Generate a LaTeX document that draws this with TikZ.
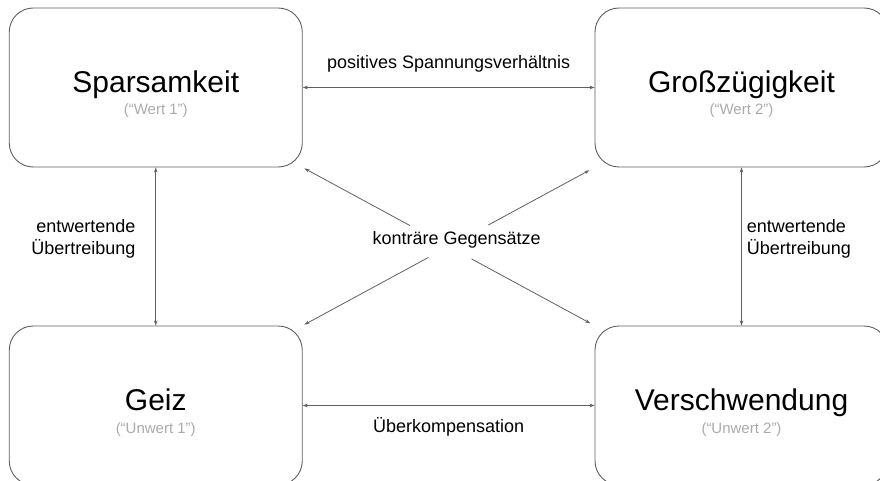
\documentclass[tikz,border=0pt]{standalone}
\usepackage{fontspec}
\setmainfont{Liberation Sans}
\usepackage{tikz}
\usetikzlibrary{positioning,arrows.meta,calc}
\tikzstyle{pixels} = [x = 1pt, y = -1pt]
\definecolor{lineColor}{RGB}{95,95,95}
\definecolor{subColor}{RGB}{170,170,170}
\tikzstyle{valueBoxStyle} = [draw=lineColor, line width=0.9pt, rounded corners = 24pt, minimum width=293pt, minimum height=159pt, inner sep=0pt]
\tikzstyle{titleText} = [font=\fontsize{30}{36}\selectfont, anchor=base, inner sep=0pt]
\tikzstyle{subText} = [font=\fontsize{15}{18}\selectfont, text=subColor, anchor=base, inner sep=0pt]
\tikzstyle{arrowLine} = [draw=lineColor, line width=0.8pt, >={Stealth[length=5pt, width=3.5pt]}]
\tikzstyle{labelText} = [font=\fontsize{18}{21.6}\selectfont, inner sep=0pt]
\newcommand{\valueBox}[4]{
  \node [valueBoxStyle] (#1) at (#2) {};
  \node [titleText] (#1Title) at ([yshift=-5pt]#1.center) {#3};
  \node [subText] (#1Sub) at ([yshift=-27.5pt]#1.center) {#4};
}

\begin{document}
\begin{tikzpicture}[pixels]
  \useasboundingbox (0,0) rectangle (880,481);
  \clip (0,0) rectangle (880,481);
  \valueBox{spar}{155.75,87.5}{Sparsamkeit}{(“Wert 1”)}
  \valueBox{gross}{741.5,87.5}{Großzügigkeit}{(“Wert 2”)}
  \valueBox{geiz}{155.75,405.5}{Geiz}{(“Unwert 1”)}
  \valueBox{versch}{741.5,405.5}{Verschwendung}{(“Unwert 2”)}
  % Spannung und Ueberkompensation
  \draw [arrowLine, <->] (spar) -- node [labelText, above=14.5pt] (spannung) {positives Spannungsverhältnis} (gross);
  \draw [arrowLine, <->] (geiz) -- node [labelText, below=12pt] (kompensation) {Überkompensation} (versch);
  % Uebertreibungen
  \draw [arrowLine, <->] (spar) -- node [labelText, pos=0.45, left=20pt, align=right] (uebertrLinks) {entwertende\\Übertreibung} (geiz);
  \draw [arrowLine, <->] (gross) -- node [labelText, pos=0.45, right=5pt, align=left] (uebertrRechts) {entwertende\\Übertreibung} (versch);
  % Gegensaetze
  \coordinate (cross) at ($(spar.south east)!0.5!(versch.north west)$);
  \node [labelText] (kontraer) at ([xshift=8pt, yshift=7pt]cross) {konträre Gegensätze};
  \draw [arrowLine, ->, shorten <=44pt, shorten >=2pt] (cross) -- (spar.south east);
  \draw [arrowLine, ->, shorten <=45pt, shorten >=6pt] (cross) -- (gross.south west);
  \draw [arrowLine, ->, shorten <=23pt, shorten >=2pt] (cross) -- (geiz.north east);
  \draw [arrowLine, ->, shorten <=26pt, shorten >=5pt] (cross) -- (versch.north west);
\end{tikzpicture}
\end{document}
